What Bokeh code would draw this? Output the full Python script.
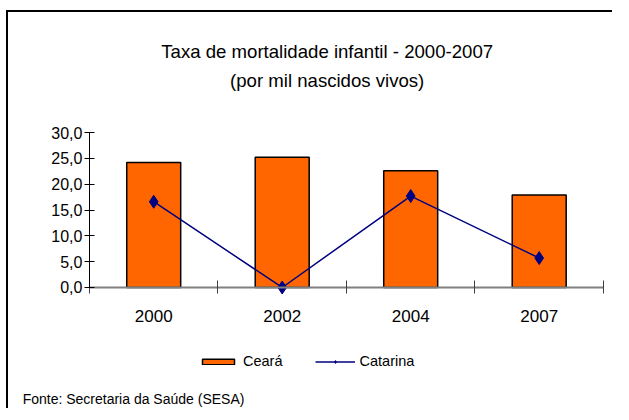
import numpy as np
from bokeh.plotting import figure
from bokeh.models import FixedTicker, Label, Legend, LegendItem, Range1d
from bokeh.embed import file_html
from bokeh.resources import INLINE

# ---- data ----
years = ["2000", "2002", "2004", "2007"]
ceara = [24.2, 25.2, 22.6, 17.9]
catarina = [16.6, 0.0, 17.7, 5.7]
y_ticks = [0, 5, 10, 15, 20, 25, 30]
title_lines = ["Taxa de mortalidade infantil - 2000-2007", "(por mil nascidos vivos)"]
source_note = "Fonte: Secretaria da Saúde (SESA)"

FONT = "Liberation Sans"
W, H = 606, 398
xpos = np.arange(len(years)) + 0.5

p = figure(width=W, height=H, output_backend="svg", toolbar_location=None,
           x_range=Range1d(-0.630, 4.086), y_range=Range1d(-23.81, 53.23),
           min_border_left=0, min_border_right=0, min_border_top=0,
           min_border_bottom=0)
p.styles = {"box-shadow": "-2px -2px 0px 0px black",
            "margin-top": "12px", "margin-left": "8px"}
p.toolbar.logo = None
p.title.visible = False
p.outline_line_color = None
p.xgrid.visible = False
p.ygrid.visible = False
p.background_fill_color = "white"
p.border_fill_color = "white"

bars = p.vbar(x=xpos, top=ceara, width=0.42, fill_color="#FF6600",
              line_color="black", line_width=1.5)
ln = p.line(x=xpos, y=catarina, line_color="#000080", line_width=1.5)
mk = p.scatter(x=xpos, y=catarina, marker="diamond", size=13,
               fill_color="#000080", line_color="#000080")

# y axis
ya = p.yaxis[0]
ya.fixed_location = 0
ya.bounds = (0, 30)
ya.ticker = FixedTicker(ticks=y_ticks, minor_ticks=[])
ya.major_label_overrides = {t: f"{t:.1f}".replace(".", ",") for t in y_ticks}
ya.axis_line_color = "black"
ya.major_tick_line_color = "black"
ya.major_tick_in = 5
ya.major_tick_out = 5
ya.major_label_standoff = 2
ya.major_label_text_font = FONT
ya.major_label_text_font_size = "16px"
ya.major_label_text_color = "black"

# x axis: labels at bar centres, ticks at category boundaries
xa = p.xaxis[0]
xa.fixed_location = 0
xa.bounds = (0, len(years))
xa.ticker = FixedTicker(ticks=list(xpos), minor_ticks=list(range(len(years) + 1)))
xa.major_label_overrides = {float(x): y for x, y in zip(xpos, years)}
xa.axis_line_color = "#808080"
xa.axis_line_width = 2
xa.major_tick_line_color = None
xa.major_tick_in = 0
xa.major_tick_out = 0
xa.minor_tick_line_color = "#404040"
xa.minor_tick_in = 7
xa.minor_tick_out = 6
xa.major_label_standoff = 17
xa.major_label_text_font = FONT
xa.major_label_text_font_size = "17px"
xa.major_label_text_color = "black"

# title
for txt, yy in zip(title_lines, [45.6, 40.0]):
    p.add_layout(Label(x=1.85, y=yy, text=txt, text_align="center",
                       text_baseline="alphabetic", text_font=FONT,
                       text_font_size="18.6px", text_color="black"))

# source note
p.add_layout(Label(x=-0.52, y=-21.6, text=source_note, text_align="left",
                   text_baseline="alphabetic", text_font=FONT,
                   text_font_size="14px", text_color="black"))

legend = Legend(items=[LegendItem(label="Ceará", renderers=[bars]),
                       LegendItem(label="Catarina", renderers=[ln, mk])],
                orientation="horizontal", location=(190, 41),
                glyph_width=40, glyph_height=7, label_height=14,
                label_standoff=5, spacing=32, padding=0, margin=0,
                border_line_color=None, background_fill_alpha=0,
                label_text_font=FONT, label_text_font_size="14.5px",
                label_text_color="black")
p.add_layout(legend)

open("out.html", "w").write(file_html(p, INLINE))
